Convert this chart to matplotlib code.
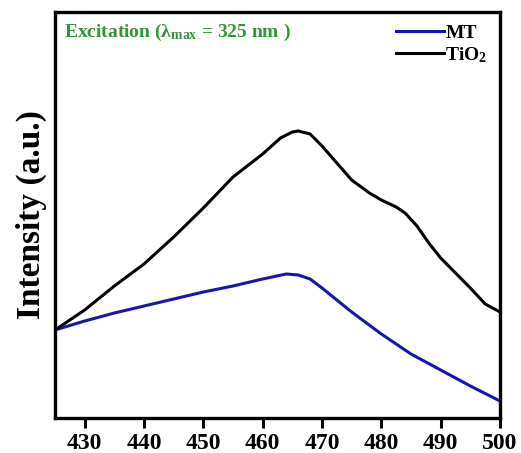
import numpy as np
import matplotlib
matplotlib.use("Agg")
import matplotlib.pyplot as plt

# Data (arbitrary intensity units)
wl_tio2 = [425, 430, 435, 440, 445, 450, 455, 460, 463, 465, 466, 468, 470,
           472.5, 475, 478, 480, 482.5, 484, 486, 488, 490, 492, 495, 497.5, 500]
int_tio2 = [78, 98, 122, 144, 171, 200, 231, 254, 270, 276, 277, 274, 262,
            245, 228, 215, 208, 201, 195, 182, 165, 150, 138, 120, 104, 96]

wl_mt = [425, 430, 435, 440, 445, 450, 455, 460, 464, 466, 468, 470, 475,
         480, 485, 490, 495, 500]
int_mt = [78, 87, 95, 102, 109, 116, 122, 129, 134, 133, 129, 120, 96,
          74, 54, 38, 22, 7]

xticks = [430, 440, 450, 460, 470, 480, 490, 500]

plt.rcParams['font.family'] = 'Liberation Serif'
plt.rcParams['font.weight'] = 'bold'
plt.rcParams['mathtext.fontset'] = 'custom'
plt.rcParams['mathtext.rm'] = 'Liberation Serif:bold'
plt.rcParams['mathtext.it'] = 'Liberation Serif:bold'
plt.rcParams['mathtext.bf'] = 'Liberation Serif:bold'

fig = plt.figure(figsize=(5.21, 4.53), dpi=100)
ax = fig.add_axes([55 / 521, 1 - 418 / 453, 445 / 521, 406 / 453])

ax.plot(wl_mt, int_mt, color="#1515b0", lw=2.2, label="MT")
ax.plot(wl_tio2, int_tio2, color="black", lw=2.2, label="TiO$_2$")

ax.set_xlim(425, 500)
ax.set_ylim(-10, 396)
ax.set_xticks(xticks)
ax.set_yticks([])
ax.tick_params(axis='x', direction='out', length=7, width=2.2, labelsize=17, pad=4)
for s in ax.spines.values():
    s.set_linewidth(2.4)

ax.set_ylabel("Intensity (a.u.)", fontsize=24, fontweight='bold', labelpad=6)

ax.text(0.02, 0.975, "Excitation (\u03bb$_{max}$ = 325 nm )", transform=ax.transAxes,
        color="#349438", fontsize=14, fontweight='bold', va='top', ha='left')

leg = ax.legend(loc="upper right", frameon=False, fontsize=14, handlelength=2.5,
                handletextpad=0.05, labelspacing=0.15, borderaxespad=0.25)
for t in leg.get_texts():
    t.set_fontweight('bold')

fig.savefig("out.png", dpi=100)
